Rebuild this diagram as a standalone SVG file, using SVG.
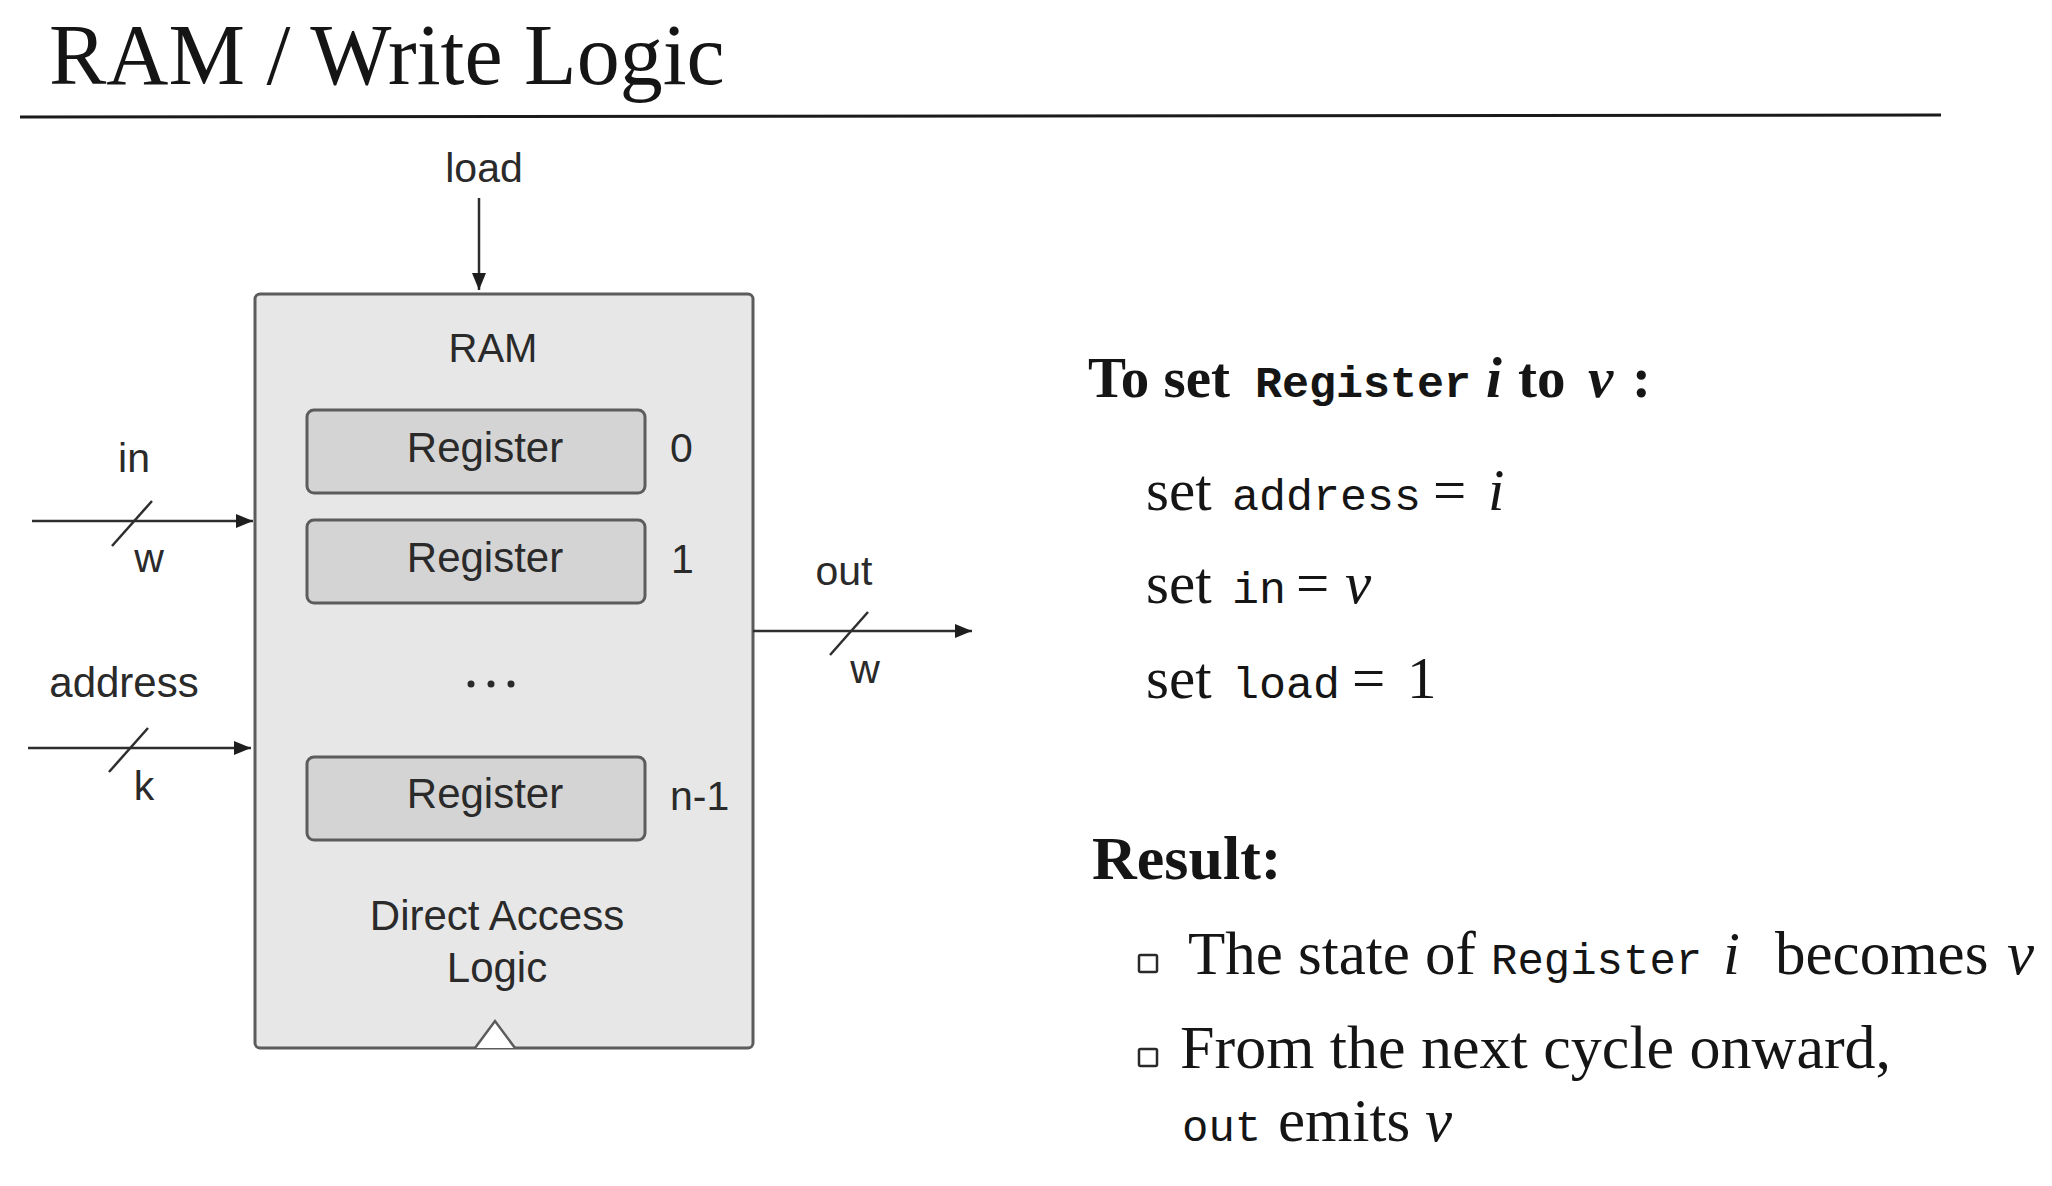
<svg xmlns="http://www.w3.org/2000/svg" width="2052" height="1186" viewBox="0 0 2052 1186">
  <style>
    .sans { font-family: "Liberation Sans", Arial, sans-serif; fill: #2a2a2a; }
    .serif { font-family: "Liberation Serif", "Times New Roman", serif; fill: #151515; }
    .mono { font-family: "Liberation Mono", "Courier New", monospace; fill: #151515; }
    .wire { stroke: #2e2e2e; stroke-width: 2.5; fill: none; }
    .slash { stroke: #2e2e2e; stroke-width: 2.5; fill: none; }
    .ram { fill: #e7e7e7; stroke: #5c5c5c; stroke-width: 3; }
    .reg { fill: #d4d4d4; stroke: #5c5c5c; stroke-width: 3; }
    .bullet { fill: #ffffff; stroke: #2a2a2a; stroke-width: 2.5; }
  </style>
  <defs>
    <marker id="arrow" markerUnits="userSpaceOnUse" markerWidth="18" markerHeight="16" refX="17" refY="7" orient="auto">
      <path d="M0,0 L17,7 L0,14 z" fill="#1e1e1e"/>
    </marker>
  </defs>
  <rect x="0" y="0" width="2052" height="1186" fill="#ffffff"/>

  <g id="title">
    <text class="serif" x="49" y="84" font-size="86">RAM / Write Logic</text>
    <line x1="20" y1="117" x2="1941" y2="115" stroke="#1a1a1a" stroke-width="3"/>
  </g>

  <g id="ram">
    <rect class="ram" x="255" y="294" width="498" height="754" rx="5"/>
    <text class="sans" x="493" y="362" font-size="40" text-anchor="middle">RAM</text>
    <circle cx="471" cy="684" r="3.5" fill="#2a2a2a"/>
    <circle cx="491" cy="684" r="3.5" fill="#2a2a2a"/>
    <circle cx="511" cy="684" r="3.5" fill="#2a2a2a"/>
    <text class="sans" x="497" y="930" font-size="42" text-anchor="middle">Direct Access</text>
    <text class="sans" x="497" y="982" font-size="42" text-anchor="middle">Logic</text>
    <path d="M475,1048 L495,1021 L515,1048" fill="#ffffff" stroke="#5c5c5c" stroke-width="2.5"/>
  </g>

  <g id="register0">
    <rect class="reg" x="307" y="410" width="338" height="83" rx="7"/>
    <text class="sans" x="485" y="462" font-size="42" text-anchor="middle">Register</text>
    <text class="sans" x="670" y="462" font-size="41">0</text>
  </g>
  <g id="register1">
    <rect class="reg" x="307" y="520" width="338" height="83" rx="7"/>
    <text class="sans" x="485" y="572" font-size="42" text-anchor="middle">Register</text>
    <text class="sans" x="671" y="573" font-size="41">1</text>
  </g>
  <g id="registerN">
    <rect class="reg" x="307" y="757" width="338" height="83" rx="7"/>
    <text class="sans" x="485" y="808" font-size="42" text-anchor="middle">Register</text>
    <text class="sans" x="670" y="810" font-size="41">n-1</text>
  </g>

  <g id="connectors">
    <line class="wire" x1="479" y1="198" x2="479" y2="290" marker-end="url(#arrow)"/>
    <line class="wire" x1="32" y1="521" x2="253" y2="521" marker-end="url(#arrow)"/>
    <line class="slash" x1="112" y1="546" x2="152" y2="501"/>
    <line class="wire" x1="28" y1="748" x2="251" y2="748" marker-end="url(#arrow)"/>
    <line class="slash" x1="109" y1="772" x2="148" y2="728"/>
    <line class="wire" x1="753" y1="631" x2="972" y2="631" marker-end="url(#arrow)"/>
    <line class="slash" x1="830" y1="655" x2="868" y2="612"/>
  </g>

  <g id="labels">
    <text class="sans" x="484" y="182" font-size="41" text-anchor="middle">load</text>
    <text class="sans" x="134" y="472" font-size="41" text-anchor="middle">in</text>
    <text class="sans" x="149" y="572" font-size="41" text-anchor="middle">w</text>
    <text class="sans" x="124" y="697" font-size="42" text-anchor="middle">address</text>
    <text class="sans" x="144" y="800" font-size="41" text-anchor="middle">k</text>
    <text class="sans" x="844" y="585" font-size="41" text-anchor="middle">out</text>
    <text class="sans" x="865" y="683" font-size="41" text-anchor="middle">w</text>
  </g>

  <g id="instructions">
    <text y="397">
      <tspan class="serif" x="1088" font-size="57" font-weight="bold">To set</tspan>
      <tspan class="mono" x="1255" font-size="45" font-weight="bold">Register</tspan>
      <tspan class="serif" x="1486" font-size="57" font-weight="bold" font-style="italic">i</tspan>
      <tspan class="serif" x="1518" font-size="57" font-weight="bold">to</tspan>
      <tspan class="serif" x="1588" font-size="57" font-weight="bold" font-style="italic">v</tspan>
      <tspan class="serif" x="1632" font-size="57" font-weight="bold">:</tspan>
    </text>
    <text y="510">
      <tspan class="serif" x="1146" font-size="59">set</tspan>
      <tspan class="mono" x="1232" font-size="45">address</tspan>
      <tspan class="serif" x="1433" font-size="59" fill="#555">=</tspan>
      <tspan class="serif" x="1488" font-size="59" font-style="italic">i</tspan>
    </text>
    <text y="603">
      <tspan class="serif" x="1146" font-size="59">set</tspan>
      <tspan class="mono" x="1232" font-size="45">in</tspan>
      <tspan class="serif" x="1296" font-size="59" fill="#555">=</tspan>
      <tspan class="serif" x="1345" font-size="59" font-style="italic">v</tspan>
    </text>
    <text y="698">
      <tspan class="serif" x="1146" font-size="59">set</tspan>
      <tspan class="mono" x="1232" font-size="45">load</tspan>
      <tspan class="serif" x="1352" font-size="59" fill="#555">=</tspan>
      <tspan class="serif" x="1407" font-size="59">1</tspan>
    </text>
  </g>

  <g id="result">
    <text class="serif" x="1092" y="879" font-size="62" font-weight="bold">Result:</text>
    <rect class="bullet" x="1139" y="955" width="18" height="17" rx="1.5"/>
    <text y="974">
      <tspan class="serif" x="1188" font-size="61">The state of</tspan>
      <tspan class="mono" x="1491" font-size="44">Register</tspan>
      <tspan class="serif" x="1723" font-size="61" font-style="italic">i</tspan>
      <tspan class="serif" x="1775" font-size="61">becomes</tspan>
      <tspan class="serif" x="2007" font-size="61" font-style="italic">v</tspan>
    </text>
    <rect class="bullet" x="1139" y="1049" width="18" height="17" rx="1.5"/>
    <text class="serif" x="1180" y="1068" font-size="62">From the next cycle onward,</text>
    <text y="1141">
      <tspan class="mono" x="1182" font-size="44">out</tspan>
      <tspan class="serif" x="1278" font-size="61">emits</tspan>
      <tspan class="serif" x="1425" font-size="61" font-style="italic">v</tspan>
    </text>
  </g>
</svg>
